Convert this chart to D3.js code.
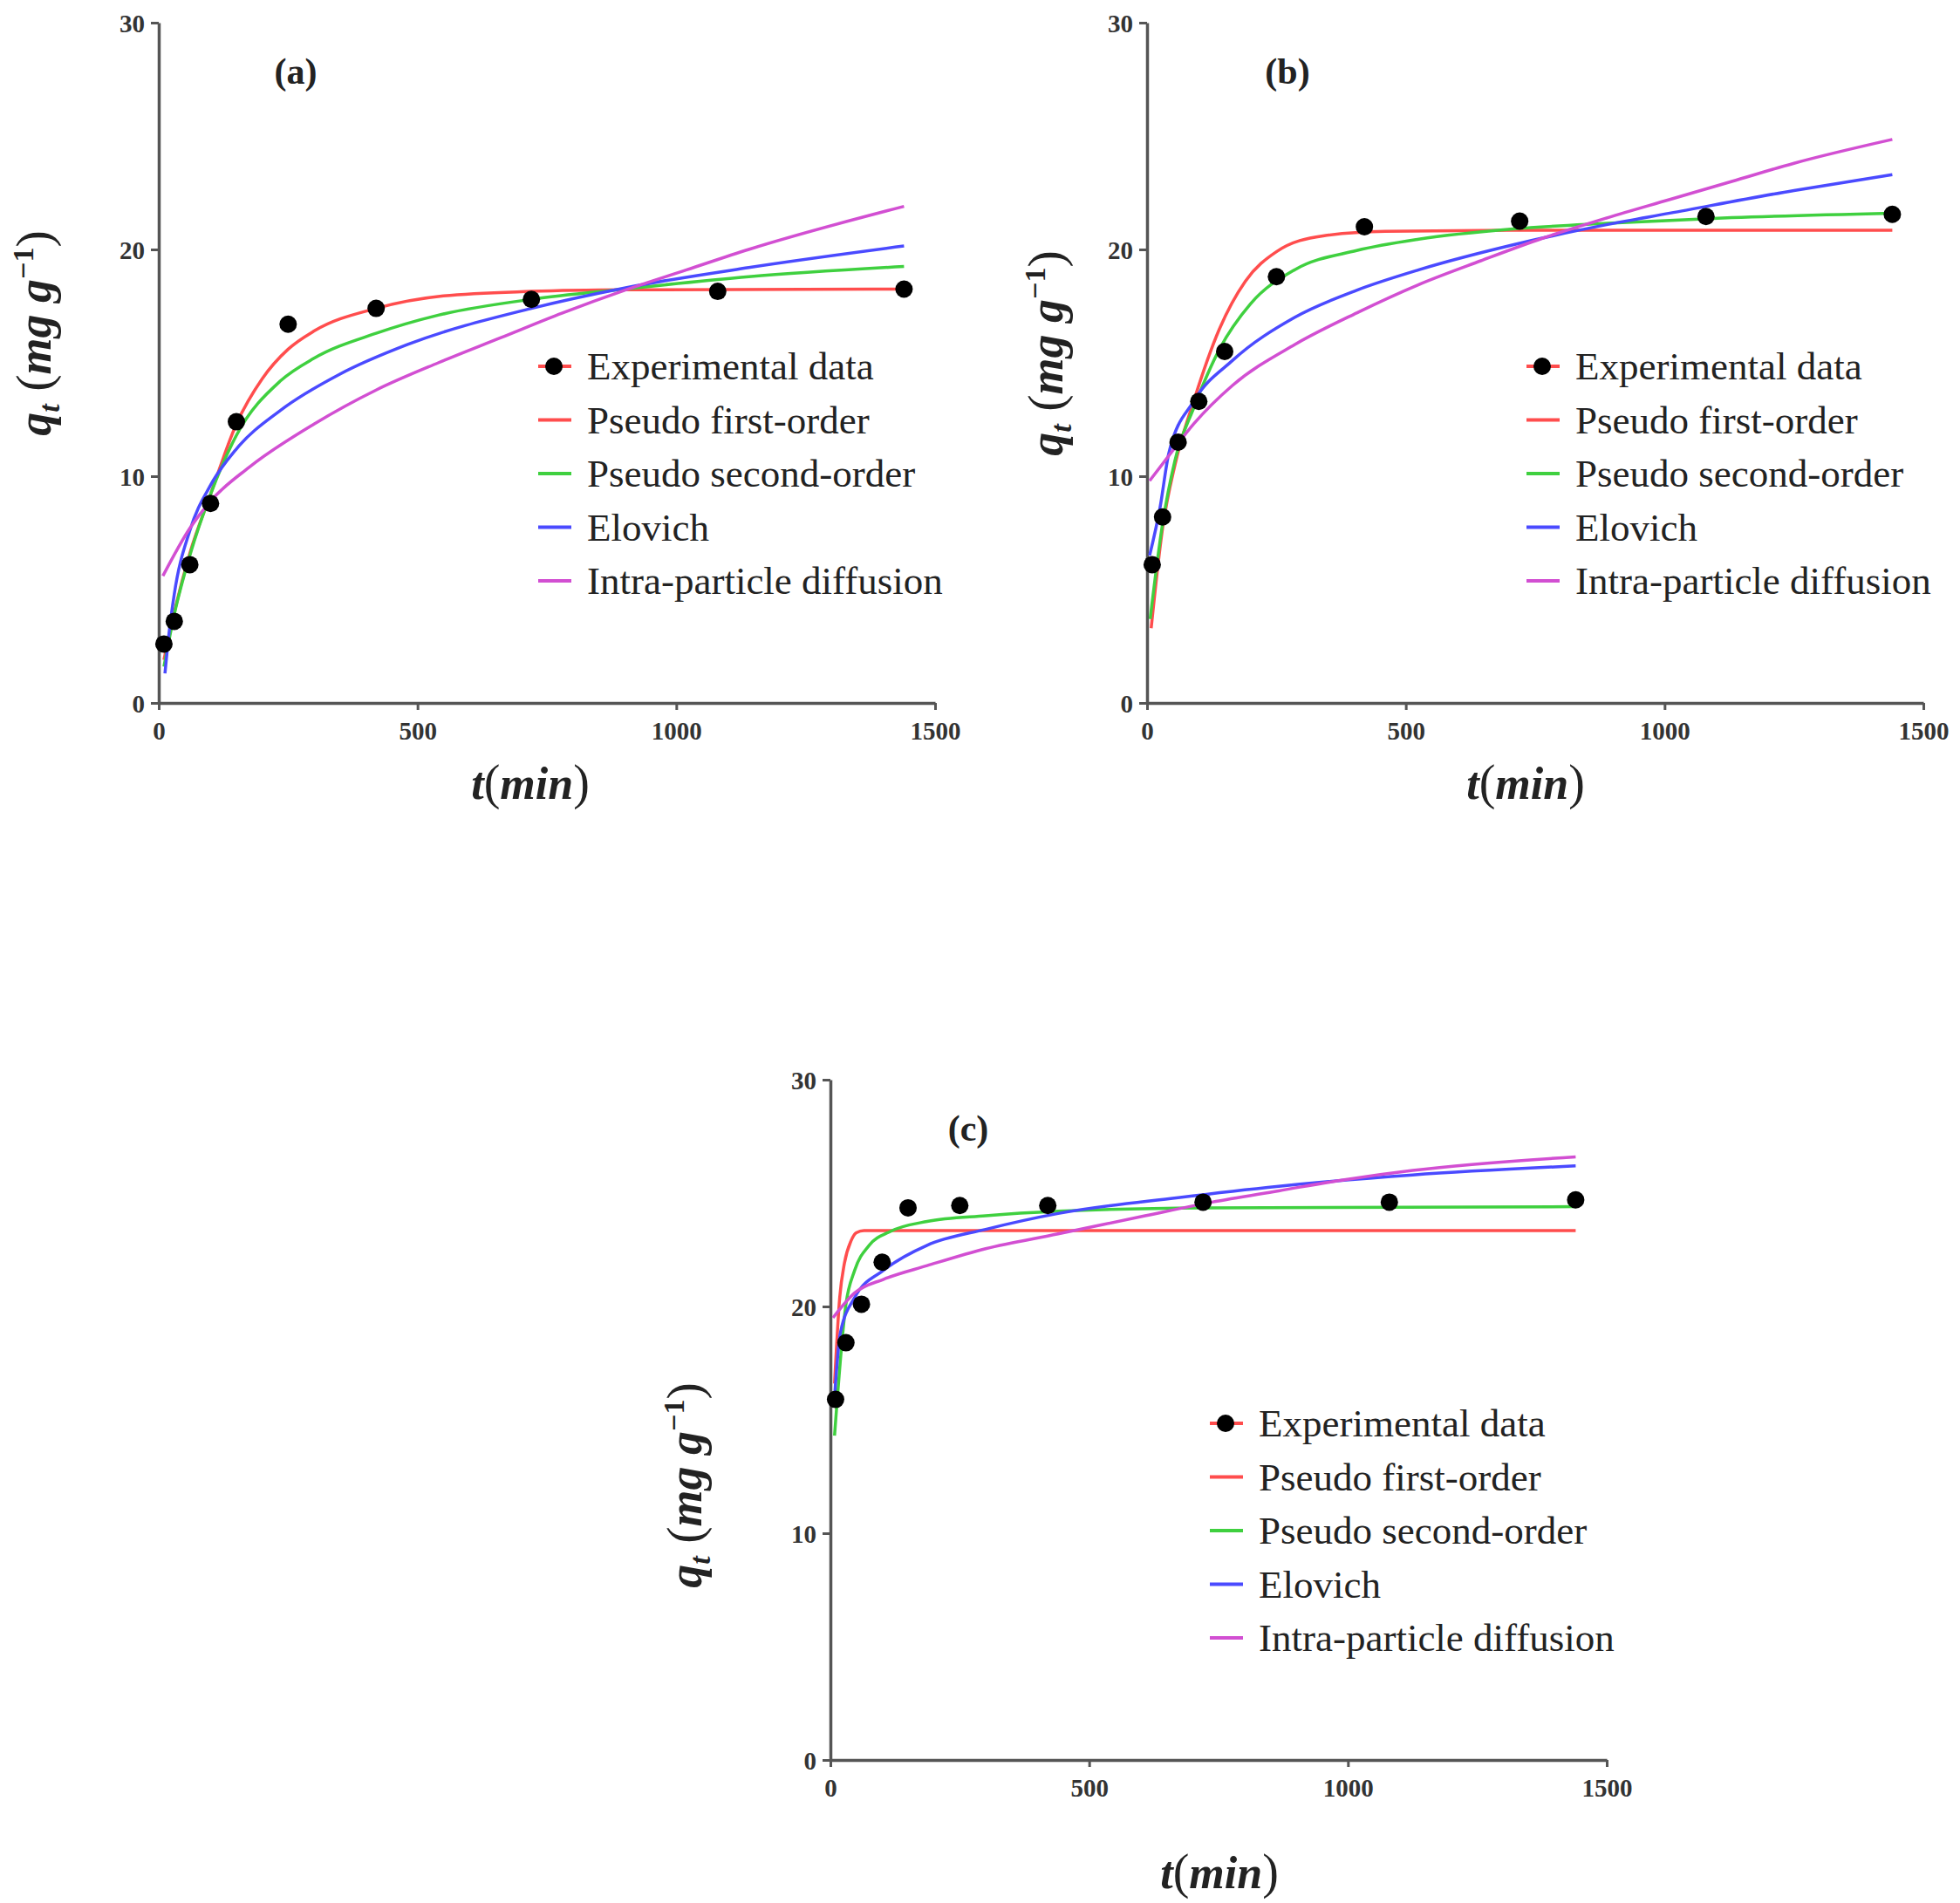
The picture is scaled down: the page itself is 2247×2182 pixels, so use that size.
<!DOCTYPE html>
<html>
<head>
<meta charset="utf-8">
<script src="https://cdn.jsdelivr.net/npm/d3@7"></script>
<style>
  body { margin: 0; background: #fff; }
  svg { display: block; }
  .tick-lbl { font-family: "Liberation Serif", "DejaVu Serif", serif; font-weight: bold; font-size: 29px; fill: #333; }
  .leg { font-family: "Liberation Serif", serif; font-size: 45px; fill: #222; }
  .plabel { font-family: "Liberation Serif", serif; font-weight: bold; font-size: 42px; fill: #222; }
  .axlabel { font-family: "Liberation Serif", serif; fill: #222; }
</style>
</head>
<body>
<svg id="chart" width="2247" height="2182"></svg>
<script>
// sampling times (min)
var times = [10, 30, 60, 100, 150, 250, 420, 720, 1080, 1440];

// experimental q_t (mg/g) per panel
var expA = [2.6, 3.6, 6.1, 8.8, 12.4, 16.7, 17.4, 17.8, 18.15, 18.25];
var expB = [6.1, 8.2, 11.5, 13.3, 15.5, 18.8, 21.0, 21.25, 21.45, 21.55];
var expC = [15.9, 18.4, 20.1, 21.95, 24.35, 24.45, 24.45, 24.6, 24.6, 24.7];

// fitted curves, [t, q]
var pfoA = [[10,1.9],[30,4.0],[60,6.6],[100,9.2],[150,12.3],[200,14.3],[250,15.6],[300,16.4],[420,17.4],[550,17.95],[720,18.15],[900,18.22],[1440,18.25]];
var psoA = [[10,1.6],[30,3.9],[60,6.5],[100,9.2],[150,11.8],[235,14.2],[300,15.2],[420,16.3],[540,17.1],[720,17.8],[900,18.25],[1140,18.8],[1440,19.25]];
var eloA = [[12,1.3],[20,3.1],[30,4.8],[60,7.6],[100,9.6],[150,11.2],[235,12.9],[350,14.5],[480,15.8],[720,17.4],[900,18.3],[1140,19.2],[1440,20.15]];
var ipdA = [[8,5.6],[60,7.7],[100,8.9],[175,10.4],[300,12.3],[420,13.8],[540,15.0],[660,16.1],[780,17.2],[900,18.2],[1020,19.1],[1140,20.0],[1440,21.9]];

var pfoB = [[8,3.3],[30,7.7],[54,10.5],[90,13.3],[140,16.5],[190,18.6],[250,19.9],[340,20.6],[460,20.8],[700,20.85],[1440,20.85]];
var psoB = [[6,3.7],[30,7.9],[54,10.7],[90,13.0],[140,15.6],[200,17.6],[285,19.1],[405,19.95],[525,20.45],[707,20.9],[890,21.15],[1130,21.4],[1440,21.6]];
var eloB = [[5,6.5],[25,8.6],[42,11.0],[90,13.3],[165,15.1],[285,17.0],[405,18.2],[525,19.1],[707,20.2],[890,21.1],[1010,21.6],[1250,22.6],[1440,23.3]];
var ipdB = [[5,9.8],[42,10.9],[90,12.3],[165,14.0],[285,15.8],[405,17.2],[525,18.45],[645,19.5],[765,20.5],[890,21.4],[1010,22.2],[1130,23.0],[1250,23.8],[1440,24.85]];

var pfoC = [[8,16.6],[18,20.4],[27,21.9],[40,22.9],[50,23.25],[65,23.35],[200,23.35],[1440,23.35]];
var psoC = [[8,14.3],[30,20.1],[47,21.6],[75,22.7],[115,23.3],[187,23.75],[300,24.0],[440,24.2],[720,24.35],[1440,24.4]];
var eloC = [[8,16.0],[19,18.8],[47,20.4],[103,21.6],[187,22.7],[300,23.4],[440,24.1],[672,24.8],[866,25.3],[1125,25.8],[1440,26.2]];
var ipdC = [[5,19.5],[47,20.6],[103,21.2],[187,21.8],[300,22.55],[440,23.2],[608,24.0],[737,24.6],[866,25.1],[996,25.6],[1125,26.0],[1440,26.6]];

var xTicks = [0, 500, 1000, 1500];
var yTicks = [0, 10, 20, 30];
var legendNames = ["Experimental data", "Pseudo first-order", "Pseudo second-order", "Elovich", "Intra-particle diffusion"];
var curveColors = ["#ff4d4d", "#3fd03f", "#4a4aff", "#d24fd2"];

var panels = [
  {tag: "(a)", ox: 182, oy: 806, exp: expA, curves: [pfoA, psoA, eloA, ipdA], ylab: [52, 382], xlab: [608, 916], tag_xy: [339, 96]},
  {tag: "(b)", ox: 1315, oy: 806, exp: expB, curves: [pfoB, psoB, eloB, ipdB], ylab: [1212, 405], xlab: [1749, 916], tag_xy: [1476, 96]},
  {tag: "(c)", ox: 952, oy: 2018, exp: expC, curves: [pfoC, psoC, eloC, ipdC], ylab: [798, 1703], xlab: [1398, 2165], tag_xy: [1110, 1308]}
];

var W = 890, H = 780;
var svg = d3.select("#chart");

function drawPanel(p) {
  var g = svg.append("g").attr("transform", "translate(" + p.ox + "," + (p.oy - H) + ")");
  var x = d3.scaleLinear().domain([0, 1500]).range([0, W]);
  var y = d3.scaleLinear().domain([0, 30]).range([H, 0]);

  // axes
  var xAxis = g.append("g").attr("transform", "translate(0," + H + ")")
    .call(d3.axisBottom(x).tickValues(xTicks).tickFormat(d3.format("d")).tickSize(8).tickSizeOuter(0));
  var yAxis = g.append("g")
    .call(d3.axisLeft(y).tickValues(yTicks).tickFormat(d3.format("d")).tickSize(9).tickSizeOuter(0));
  [xAxis, yAxis].forEach(function(a) {
    a.select(".domain").attr("stroke", "#555").attr("stroke-width", 3.5);
    a.selectAll(".tick line").attr("stroke", "#555").attr("stroke-width", 3);
    a.selectAll(".tick text").attr("class", "tick-lbl").attr("font-size", null).attr("font-family", null).attr("fill", null);
  });
  xAxis.selectAll(".tick text").attr("dy", null).attr("y", 42);
  yAxis.selectAll(".tick text").attr("x", -16).attr("dy", "0.35em");

  // curves
  var line = d3.line()
    .x(function(d) { return x(d[0]); })
    .y(function(d) { return y(d[1]); })
    .curve(d3.curveMonotoneX);
  p.curves.forEach(function(c, i) {
    g.append("path").datum(c)
      .attr("d", line)
      .attr("fill", "none")
      .attr("stroke", curveColors[i])
      .attr("stroke-width", 3.5);
  });

  // experimental points
  g.selectAll("circle.pt").data(p.exp).enter().append("circle")
    .attr("class", "pt")
    .attr("cx", function(d, i) { return x(times[i]); })
    .attr("cy", function(d) { return y(d); })
    .attr("r", 10)
    .attr("fill", "#000");

  // panel tag
  svg.append("text").attr("class", "plabel")
    .attr("x", p.tag_xy[0]).attr("y", p.tag_xy[1])
    .attr("text-anchor", "middle").text(p.tag);

  // legend
  var leg = g.append("g").attr("transform", "translate(453,394)");
  legendNames.forEach(function(name, i) {
    var row = leg.append("g").attr("transform", "translate(0," + (i * 61.5) + ")");
    var col = i === 0 ? curveColors[0] : curveColors[i - 1];
    row.append("line").attr("x1", -18).attr("x2", 20).attr("y1", 0).attr("y2", 0)
      .attr("stroke", col).attr("stroke-width", 4);
    if (i === 0) row.append("circle").attr("r", 10).attr("fill", "#000");
    row.append("text").attr("class", "leg").attr("x", 38).attr("y", 15).text(name);
  });

  // x label
  var xl = svg.append("text").attr("class", "axlabel")
    .attr("x", p.xlab[0]).attr("y", p.xlab[1]).attr("text-anchor", "middle");
  xl.append("tspan").attr("font-style", "italic").attr("font-weight", "bold").attr("font-size", 52).text("t");
  xl.append("tspan").attr("font-size", 56).text("(");
  xl.append("tspan").attr("font-style", "italic").attr("font-weight", "bold").attr("font-size", 52).text("min");
  xl.append("tspan").attr("font-size", 56).text(")");

  // y label
  var yl = svg.append("text").attr("class", "axlabel")
    .attr("transform", "translate(" + p.ylab[0] + "," + p.ylab[1] + ") rotate(-90)")
    .attr("text-anchor", "middle").attr("dy", "0.35em");
  yl.append("tspan").attr("font-style", "italic").attr("font-weight", "bold").attr("font-size", 54).text("q");
  yl.append("tspan").attr("font-style", "italic").attr("font-weight", "bold").attr("font-size", 34).attr("dy", 10).text("t");
  yl.append("tspan").attr("font-size", 58).attr("dy", -10).text(" (");
  yl.append("tspan").attr("font-style", "italic").attr("font-weight", "bold").attr("font-size", 54).text("mg g");
  yl.append("tspan").attr("font-weight", "bold").attr("font-size", 34).attr("dy", -20).text("\u22121");
  yl.append("tspan").attr("font-size", 58).attr("dy", 20).text(")");
}

panels.forEach(drawPanel);
</script>
</body>
</html>
